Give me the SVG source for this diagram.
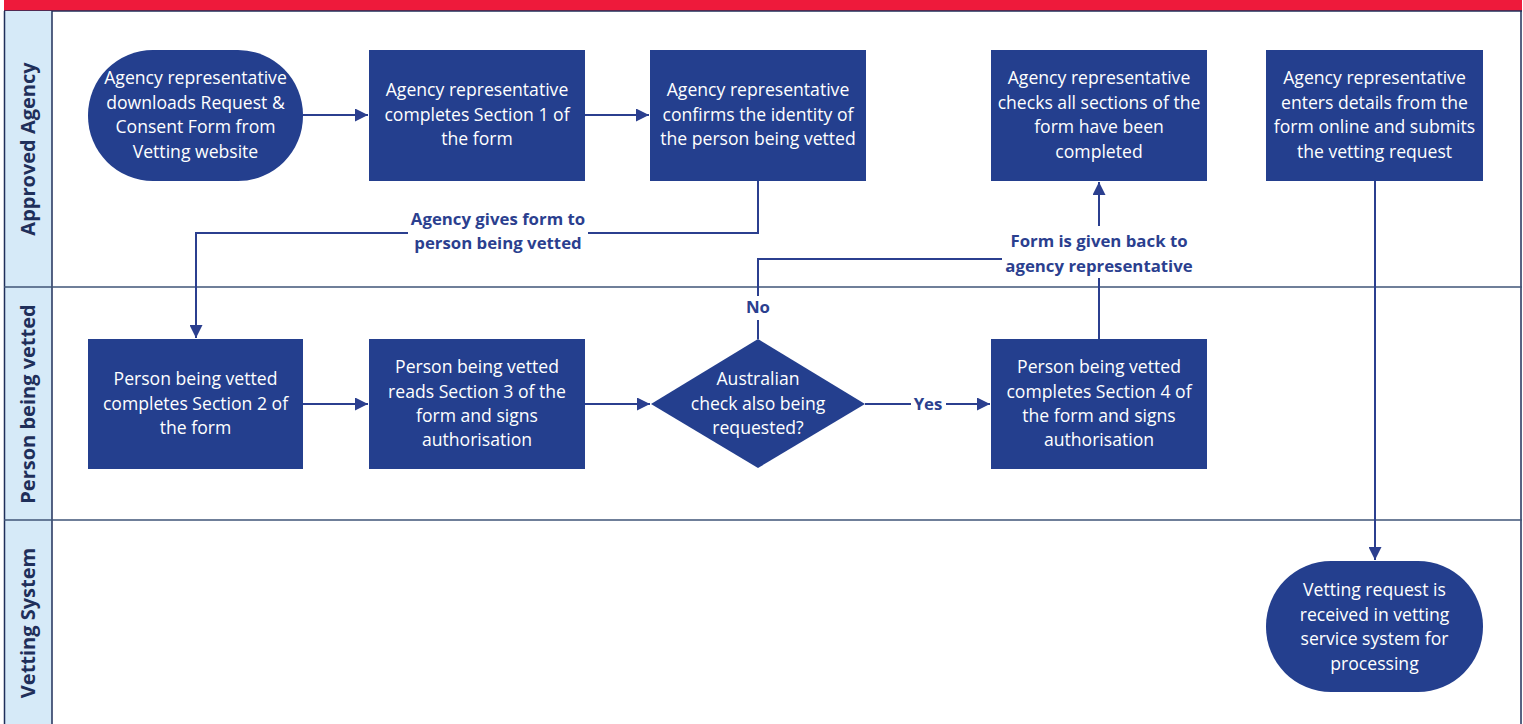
<svg xmlns="http://www.w3.org/2000/svg" width="1523" height="724" viewBox="0 0 1523 724">
<style>
.node{fill:#243f8e;}
.nt{font-family:"Open Sans","Liberation Sans",Arial,sans-serif;font-size:17.6px;fill:#ffffff;text-anchor:middle;}
.lane{font-family:"Open Sans","Liberation Sans",Arial,sans-serif;font-size:20px;font-weight:bold;fill:#1f2f5a;text-anchor:middle;}
.cl{font-family:"Open Sans","Liberation Sans",Arial,sans-serif;font-size:16.8px;font-weight:bold;fill:#2b3f8f;text-anchor:middle;}
.conn{fill:none;stroke:#2b3f8f;stroke-width:2;}
.lbg{fill:#ffffff;}
</style>
<defs>
<marker id="arr" viewBox="0 0 10 10" refX="10" refY="5" markerWidth="6.5" markerHeight="6.5" orient="auto" markerUnits="strokeWidth">
<path d="M0,0 L10,5 L0,10 z" fill="#2b3f8f"/>
</marker>
</defs>
<rect x="0" y="0" width="1523" height="724" fill="#ffffff"/>
<g id="lanes">
<rect x="4" y="0" width="1518" height="11" fill="#ee1a3b"/>
<line x1="4" y1="11" x2="1522" y2="11" stroke="#1f2f5a" stroke-width="1.5"/>
<rect x="4" y="11" width="48" height="713" fill="#d6eaf8"/>
<line x1="4.5" y1="11" x2="4.5" y2="724" stroke="#1f2f5a" stroke-width="1.5"/>
<line x1="52" y1="11" x2="52" y2="724" stroke="#1f2f5a" stroke-width="1.5"/>
<line x1="1521" y1="11" x2="1521" y2="724" stroke="#1f2f5a" stroke-width="1.5"/>
<line x1="4" y1="287" x2="1522" y2="287" stroke="#3f5577" stroke-width="1.5"/>
<line x1="4" y1="520" x2="1522" y2="520" stroke="#3f5577" stroke-width="1.5"/>
<text class="lane" transform="translate(35,149) rotate(-90)">Approved Agency</text>
<text class="lane" transform="translate(35,404) rotate(-90)">Person being vetted</text>
<text class="lane" transform="translate(35,623) rotate(-90)">Vetting System</text>
</g>
<g id="connectors">
<line class="conn" x1="303" y1="115" x2="368" y2="115" marker-end="url(#arr)"/>
<line class="conn" x1="585" y1="115" x2="649" y2="115" marker-end="url(#arr)"/>
<polyline class="conn" points="758,181 758,233 196,233 196,338" marker-end="url(#arr)"/>
<line class="conn" x1="303" y1="404" x2="368" y2="404" marker-end="url(#arr)"/>
<line class="conn" x1="585" y1="404" x2="650" y2="404" marker-end="url(#arr)"/>
<line class="conn" x1="865" y1="404" x2="990" y2="404" marker-end="url(#arr)"/>
<polyline class="conn" points="758,339 758,259 1099,259"/>
<line class="conn" x1="1099" y1="339" x2="1099" y2="182" marker-end="url(#arr)"/>
<line class="conn" x1="1375" y1="181" x2="1375" y2="560" marker-end="url(#arr)"/>
<rect class="lbg" x="408" y="205" width="180" height="50"/>
<text class="cl" x="498" y="225">Agency gives form to</text>
<text class="cl" x="498" y="249">person being vetted</text>
<rect class="lbg" x="1002" y="226" width="196" height="52"/>
<text class="cl" x="1099" y="247">Form is given back to</text>
<text class="cl" x="1099" y="272">agency representative</text>
<rect class="lbg" x="744" y="296" width="28" height="24"/>
<text class="cl" x="758" y="313">No</text>
<rect class="lbg" x="911" y="394" width="35" height="20"/>
<text class="cl" x="928" y="410">Yes</text>
</g>
<g id="n1">
<rect class="node" x="88" y="50" width="215" height="131" rx="65" ry="65"/>
<text class="nt" x="195.5" y="84">Agency representative</text>
<text class="nt" x="195.5" y="108.5">downloads Request &amp;</text>
<text class="nt" x="195.5" y="133">Consent Form from</text>
<text class="nt" x="195.5" y="157.5">Vetting website</text>
</g>
<g id="n2">
<rect class="node" x="369" y="50" width="216" height="131"/>
<text class="nt" x="477" y="96">Agency representative</text>
<text class="nt" x="477" y="121">completes Section 1 of</text>
<text class="nt" x="477" y="145">the form</text>
</g>
<g id="n3">
<rect class="node" x="650" y="50" width="216" height="131"/>
<text class="nt" x="758" y="96">Agency representative</text>
<text class="nt" x="758" y="121">confirms the identity of</text>
<text class="nt" x="758" y="145">the person being vetted</text>
</g>
<g id="n4">
<rect class="node" x="991" y="50" width="216" height="131"/>
<text class="nt" x="1099" y="84">Agency representative</text>
<text class="nt" x="1099" y="108.5">checks all sections of the</text>
<text class="nt" x="1099" y="133">form have been</text>
<text class="nt" x="1099" y="157.5">completed</text>
</g>
<g id="n5">
<rect class="node" x="1266" y="50" width="217" height="131"/>
<text class="nt" x="1374.5" y="84">Agency representative</text>
<text class="nt" x="1374.5" y="108.5">enters details from the</text>
<text class="nt" x="1374.5" y="133">form online and submits</text>
<text class="nt" x="1374.5" y="157.5">the vetting request</text>
</g>
<g id="n6">
<rect class="node" x="88" y="339" width="215" height="130"/>
<text class="nt" x="195.5" y="385">Person being vetted</text>
<text class="nt" x="195.5" y="410">completes Section 2 of</text>
<text class="nt" x="195.5" y="434">the form</text>
</g>
<g id="n7">
<rect class="node" x="369" y="339" width="216" height="130"/>
<text class="nt" x="477" y="373">Person being vetted</text>
<text class="nt" x="477" y="397.5">reads Section 3 of the</text>
<text class="nt" x="477" y="422">form and signs</text>
<text class="nt" x="477" y="446">authorisation</text>
</g>
<g id="n8">
<polygon class="node" points="758,339 865,404 758,468 651,404"/>
<text class="nt" x="758" y="385">Australian</text>
<text class="nt" x="758" y="410">check also being</text>
<text class="nt" x="758" y="434">requested?</text>
</g>
<g id="n9">
<rect class="node" x="991" y="339" width="216" height="130"/>
<text class="nt" x="1099" y="373">Person being vetted</text>
<text class="nt" x="1099" y="397.5">completes Section 4 of</text>
<text class="nt" x="1099" y="422">the form and signs</text>
<text class="nt" x="1099" y="446">authorisation</text>
</g>
<g id="n10">
<rect class="node" x="1266" y="561" width="217" height="131" rx="65" ry="65"/>
<text class="nt" x="1374.5" y="596">Vetting request is</text>
<text class="nt" x="1374.5" y="621">received in vetting</text>
<text class="nt" x="1374.5" y="645">service system for</text>
<text class="nt" x="1374.5" y="670">processing</text>
</g>
</svg>
